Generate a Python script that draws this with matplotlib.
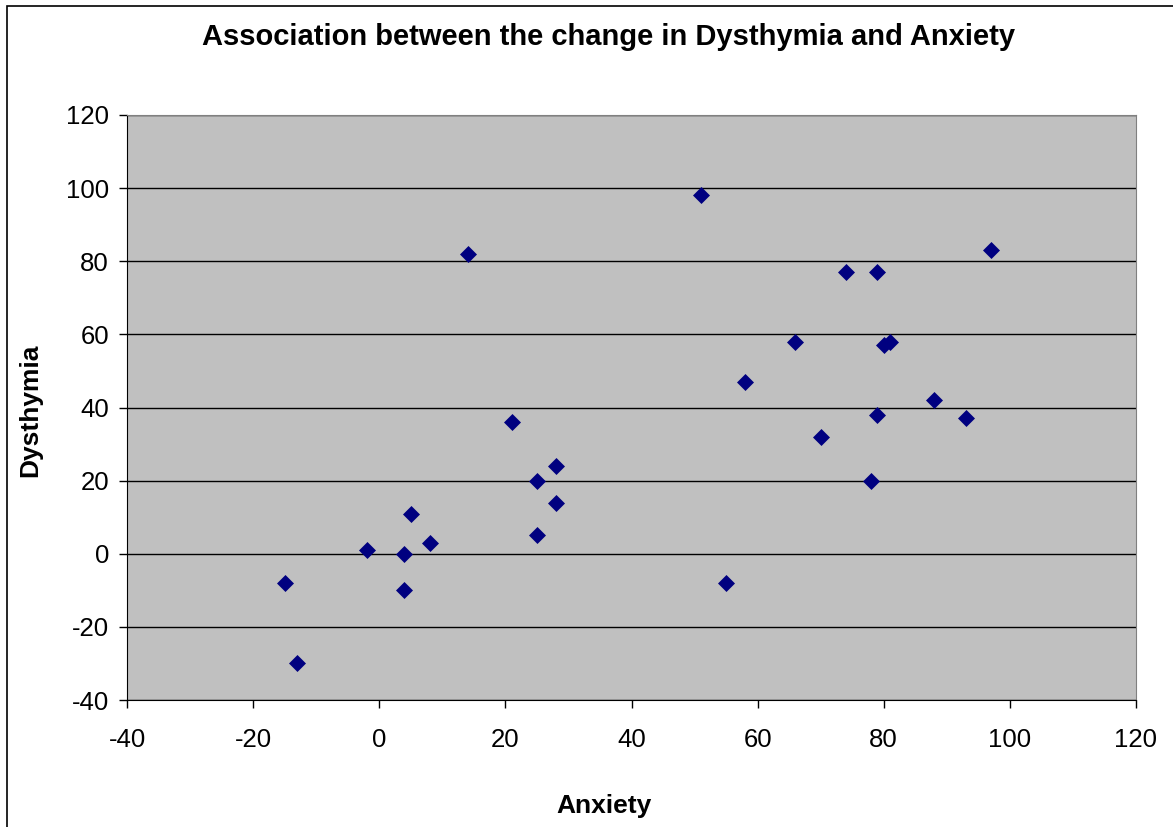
import matplotlib
matplotlib.use("Agg")
import matplotlib.pyplot as plt
from matplotlib.patches import Rectangle

anxiety = [-15, -13, -2, 4, 4, 5, 8, 14, 21, 25, 25, 28, 28, 51, 55, 58, 66, 70,
           74, 79, 79, 78, 80, 81, 88, 93, 97]
dysthymia = [-8, -30, 1, 0, -10, 11, 3, 82, 36, 20, 5, 24, 14, 98, -8, 47, 58, 32,
             77, 77, 38, 20, 57, 58, 42, 37, 83]

xticks = [-40, -20, 0, 20, 40, 60, 80, 100, 120]
yticks = [-40, -20, 0, 20, 40, 60, 80, 100, 120]

plt.rcParams['font.family'] = ['Liberation Sans', 'DejaVu Sans']
plt.rcParams['axes.unicode_minus'] = False

W, H = 1173, 827
fig = plt.figure(figsize=(W / 100, H / 100), dpi=100)
fig.patch.set_facecolor('white')
fig.patches.append(Rectangle((7 / W, -0.05), 1.2, 1 - 6 / H + 0.05,
                             transform=fig.transFigure, fill=False,
                             edgecolor='black', linewidth=1.2))

ax = fig.add_axes([127 / W, 1 - 700 / H, (1136 - 127) / W, (700 - 115) / H])
ax.set_facecolor('#C0C0C0')
ax.scatter(anxiety, dysthymia, marker='D', s=75, color='#000080', zorder=3,
           linewidths=0)
ax.set_xlim(-40, 120)
ax.set_ylim(-40, 120)
ax.set_xticks(xticks)
ax.set_yticks(yticks)
ax.set_xticklabels([str(t) for t in xticks])
ax.set_yticklabels([str(t) for t in yticks])
ax.yaxis.grid(True, color='black', linewidth=1.0)
ax.set_axisbelow(True)
ax.tick_params(direction='out', length=6, width=1, labelsize=18.5)
ax.tick_params(axis='x', pad=14)
ax.tick_params(axis='y', pad=7)
for s in ['top', 'right']:
    ax.spines[s].set_color('#808080')
for s in ['left', 'bottom']:
    ax.spines[s].set_color('black')

fig.text(609 / W, 1 - 37 / H, 'Association between the change in Dysthymia and Anxiety',
         ha='center', va='center', fontsize=21, fontweight='bold')
fig.text(604 / W, 1 - 806 / H, 'Anxiety', ha='center', va='center',
         fontsize=19, fontweight='bold')
fig.text(30 / W, 1 - 410 / H, 'Dysthymia', ha='center', va='center',
         fontsize=19, fontweight='bold', rotation=90)

fig.savefig('out.png', dpi=100)
